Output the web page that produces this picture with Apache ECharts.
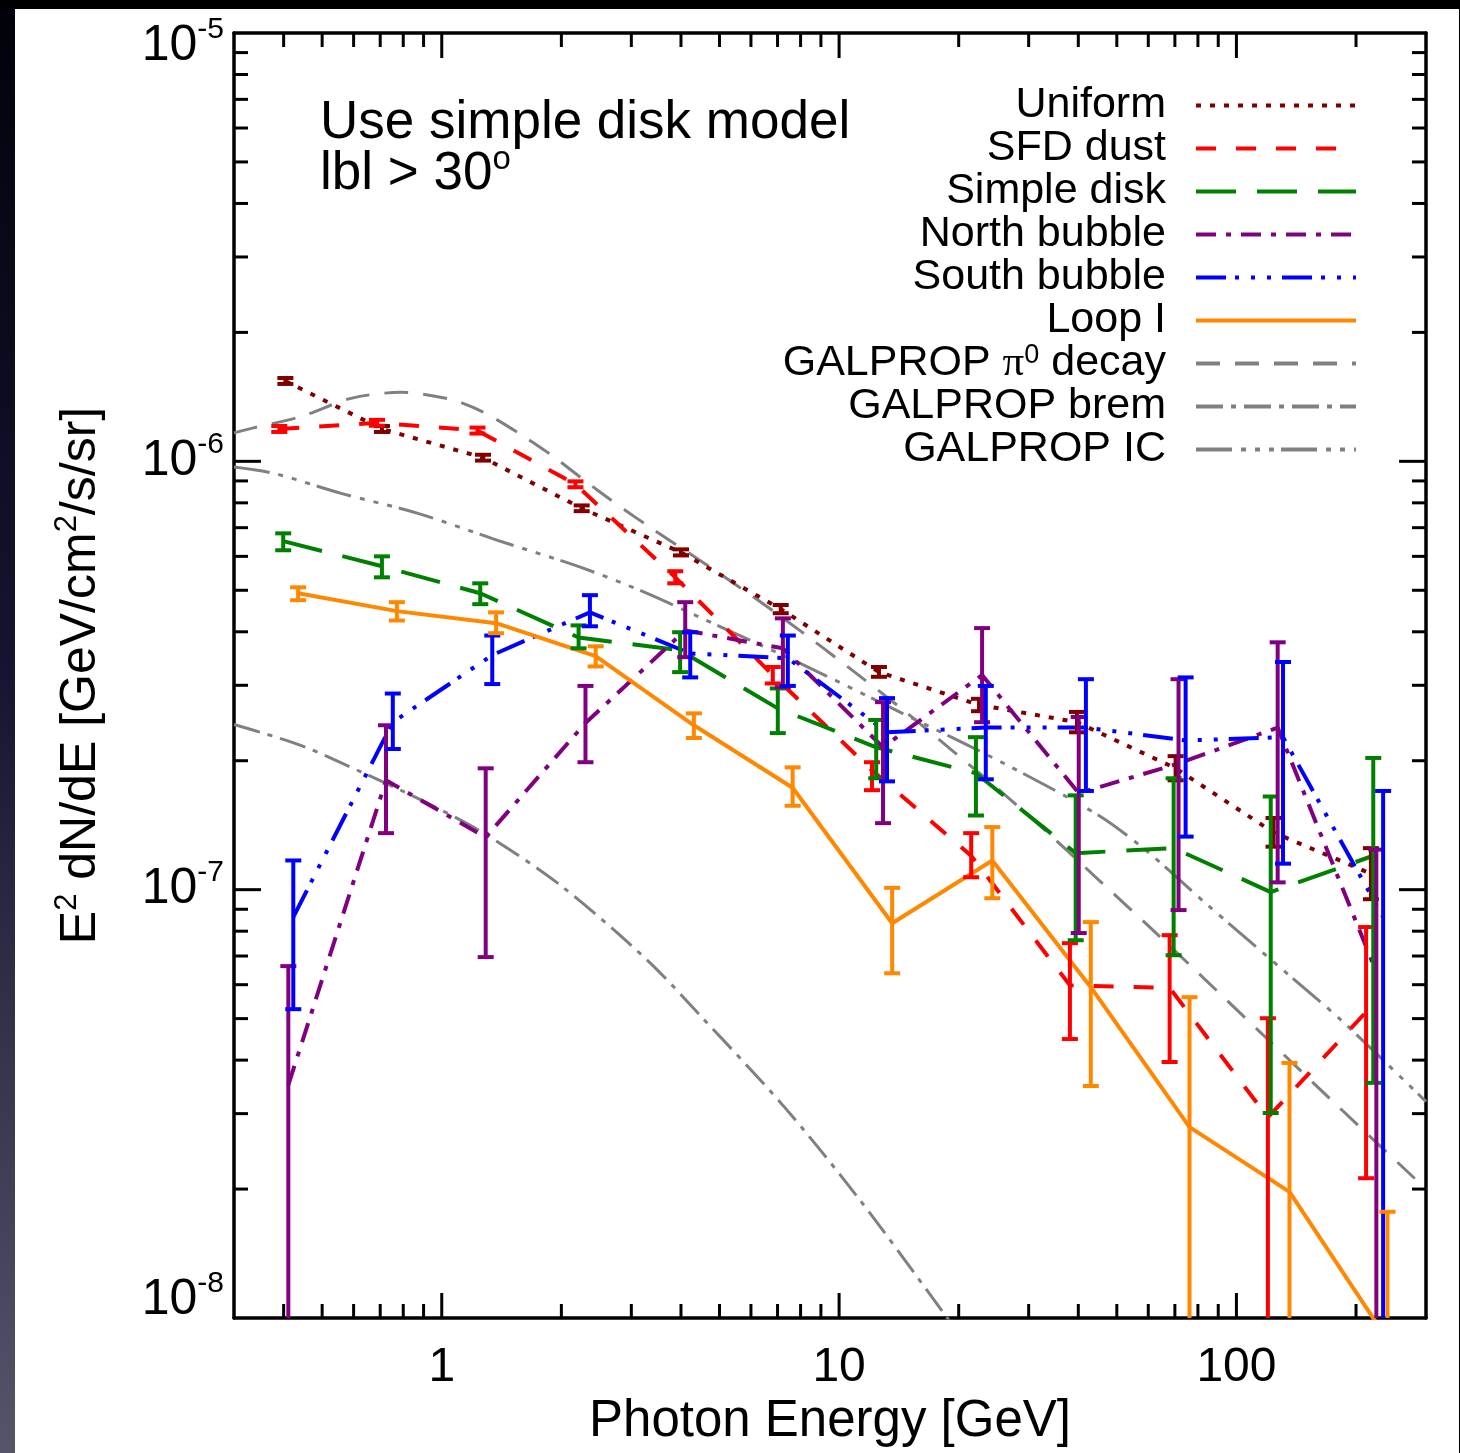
<!DOCTYPE html>
<html>
<head>
<meta charset="utf-8">
<script src="https://cdn.jsdelivr.net/npm/echarts@6/dist/echarts.min.js"></script>
<style>
  html, body { margin: 0; padding: 0; width: 1460px; height: 1453px; overflow: hidden; background: #000; }
  #side { position: absolute; left: 0; top: 9px; width: 15px; height: 1444px; background: linear-gradient(#02020c, #141430 45%, #55556a); }
  #chart { position: absolute; left: 15px; top: 9px; width: 1444px; height: 1444px; background: #fff; }
</style>
</head>
<body>
<div id="side"></div>
<div id="chart"></div>
<script>
// axis ranges
const X_MIN = 0.3, X_MAX = 300;
const Y_MIN = 1e-8, Y_MAX = 1e-5;

// tick positions
const xMajorTicks = [1, 10, 100];
const xMinorTicks = [0.4, 0.5, 0.6, 0.7, 0.8, 0.9, 2, 3, 4, 5, 6, 7, 8, 9, 20, 30, 40, 50, 60, 70, 80, 90, 200];
const yMajorTicks = [1e-7, 1e-6];
const yMinorTicks = [2e-8, 3e-8, 4e-8, 5e-8, 6e-8, 7e-8, 8e-8, 9e-8,
  2e-7, 3e-7, 4e-7, 5e-7, 6e-7, 7e-7, 8e-7, 9e-7,
  2e-6, 3e-6, 4e-6, 5e-6, 6e-6, 7e-6, 8e-6, 9e-6];

// Uniform
const uniE  = [0.404, 0.707, 1.27, 2.25, 4.0, 7.13, 12.6, 22.5, 39.7, 70.3, 124, 218];
const uniV  = [1.54e-6, 1.19e-6, 1.02e-6, 7.77e-7, 6.13e-7, 4.52e-7, 3.22e-7, 2.70e-7, 2.46e-7, 1.92e-7, 1.36e-7, 1.09e-7];
const uniLo = [1.516e-6, 1.171e-6, 1.004e-6, 7.65e-7, 6.03e-7, 4.42e-7, 3.14e-7, 2.61e-7, 2.33e-7, 1.80e-7, 1.26e-7, 9.5e-8];
const uniHi = [1.565e-6, 1.209e-6, 1.036e-6, 7.89e-7, 6.23e-7, 4.62e-7, 3.31e-7, 2.79e-7, 2.60e-7, 2.05e-7, 1.47e-7, 1.25e-7];

// SFD dust
const sfdE  = [0.390, 0.687, 1.23, 2.17, 3.87, 6.81, 12.1, 21.5, 38.1, 67.9, 120, 212];
const sfdV  = [1.19e-6, 1.23e-6, 1.18e-6, 8.84e-7, 5.36e-7, 3.17e-7, 1.90e-7, 1.20e-7, 5.98e-8, 5.9e-8, 2.94e-8, 5.18e-8];
const sfdLo = [1.171e-6, 1.211e-6, 1.161e-6, 8.70e-7, 5.19e-7, 3.03e-7, 1.707e-7, 1.069e-7, 4.48e-8, 3.96e-8, 5e-9, 2.12e-8];
const sfdHi = [1.209e-6, 1.250e-6, 1.199e-6, 8.98e-7, 5.54e-7, 3.31e-7, 1.984e-7, 1.355e-7, 7.50e-8, 7.83e-8, 5.01e-8, 8.18e-8];

// Simple disk
const diskE  = [0.399, 0.707, 1.25, 2.21, 3.98, 7.01, 12.4, 22.1, 39.4, 69.5, 122, 221];
const diskV  = [6.51e-7, 5.69e-7, 4.92e-7, 3.88e-7, 3.62e-7, 2.65e-7, 2.15e-7, 1.87e-7, 1.217e-7, 1.25e-7, 9.87e-8, 1.20e-7];
const diskLo = [6.20e-7, 5.36e-7, 4.64e-7, 3.66e-7, 3.22e-7, 2.32e-7, 1.82e-7, 1.49e-7, 7.62e-8, 7.03e-8, 3.01e-8, 3.54e-8];
const diskHi = [6.79e-7, 6.00e-7, 5.19e-7, 4.14e-7, 3.99e-7, 2.95e-7, 2.49e-7, 2.27e-7, 1.66e-7, 1.82e-7, 1.65e-7, 2.03e-7];

// North bubble
const northE  = [0.411, 0.724, 1.29, 2.30, 4.10, 7.22, 12.9, 22.9, 40.1, 71.5, 127, 225];
const northV  = [3.50e-8, 1.80e-7, 1.326e-7, 2.45e-7, 4.03e-7, 3.66e-7, 2.15e-7, 3.17e-7, 1.68e-7, 1.97e-7, 2.39e-7, 6.42e-8];
const northLo = [5e-9, 1.355e-7, 6.96e-8, 1.984e-7, 3.49e-7, 2.97e-7, 1.43e-7, 2.46e-7, 7.92e-8, 8.96e-8, 1.04e-7, 5e-9];
const northHi = [6.63e-8, 2.42e-7, 1.92e-7, 2.99e-7, 4.69e-7, 4.30e-7, 2.74e-7, 4.08e-7, 2.53e-7, 3.10e-7, 3.78e-7, 1.24e-7];

// South bubble
const southE  = [0.423, 0.753, 1.34, 2.36, 4.22, 7.43, 13.2, 23.4, 41.8, 74.5, 131, 234];
const southV  = [8.63e-8, 2.46e-7, 3.53e-7, 4.44e-7, 3.56e-7, 3.47e-7, 2.33e-7, 2.39e-7, 2.39e-7, 2.23e-7, 2.27e-7, 8.63e-8];
const southLo = [5.26e-8, 2.13e-7, 3.02e-7, 4.12e-7, 3.13e-7, 2.99e-7, 1.79e-7, 1.81e-7, 1.70e-7, 1.33e-7, 1.15e-7, 5e-9];
const southHi = [1.17e-7, 2.87e-7, 3.92e-7, 4.87e-7, 3.99e-7, 3.92e-7, 2.80e-7, 2.99e-7, 3.10e-7, 3.13e-7, 3.40e-7, 1.70e-7];

// Loop I
const loopE  = [0.435, 0.771, 1.37, 2.44, 4.31, 7.64, 13.6, 24.3, 43.0, 76.2, 136, 240];
const loopV  = [4.92e-7, 4.47e-7, 4.19e-7, 3.51e-7, 2.42e-7, 1.73e-7, 8.35e-8, 1.17e-7, 5.92e-8, 2.79e-8, 1.97e-8, 8.9e-9];
const loopLo = [4.74e-7, 4.25e-7, 3.97e-7, 3.32e-7, 2.26e-7, 1.57e-7, 6.38e-8, 9.55e-8, 3.48e-8, 5e-9, 5e-9, 5e-9];
const loopHi = [5.08e-7, 4.69e-7, 4.44e-7, 3.70e-7, 2.58e-7, 1.93e-7, 1.01e-7, 1.40e-7, 8.40e-8, 5.61e-8, 3.94e-8, 1.77e-8];

// GALPROP model curves
const pi0E = [0.3, 0.332, 0.443, 0.591, 0.789, 1.053, 1.275, 1.579, 1.877, 2.233, 2.506, 2.895, 3.346, 4.466, 5.963, 7.96, 10.62, 14.19, 18.94, 25.28, 33.75, 45.05, 60.14, 80.28, 118.2, 173.2, 300];
const pi0V = [1.165e-6, 1.194e-6, 1.273e-6, 1.403e-6, 1.449e-6, 1.395e-6, 1.301e-6, 1.156e-6, 1.038e-6, 9.18e-7, 8.47e-7, 7.69e-7, 7.01e-7, 5.87e-7, 4.89e-7, 4.03e-7, 3.29e-7, 2.67e-7, 2.14e-7, 1.71e-7, 1.35e-7, 1.053e-7, 8.22e-8, 6.38e-8, 4.53e-8, 3.23e-8, 2.0e-8];
const bremE = [0.3, 0.443, 0.637, 0.886, 1.275, 1.989, 3.288, 4.466, 7.215, 11.26, 18.72, 25.28];
const bremV = [2.43e-7, 2.17e-7, 1.87e-7, 1.62e-7, 1.355e-7, 1.024e-7, 6.85e-8, 5.09e-8, 3.14e-8, 1.89e-8, 1.0e-8, 6.8e-9];
const icE = [0.3, 0.379, 0.558, 0.871, 1.382, 2.233, 3.288, 4.466, 7.96, 14.19, 26.02, 45.05, 60.14, 83.6, 137.4, 183.4, 300];
const icV = [9.7e-7, 9.37e-7, 8.42e-7, 7.56e-7, 6.54e-7, 5.66e-7, 4.92e-7, 4.32e-7, 3.38e-7, 2.60e-7, 1.97e-7, 1.49e-7, 1.22e-7, 9.30e-8, 6.25e-8, 4.96e-8, 3.2e-8];

const FONT = '"Liberation Sans", Arial, sans-serif';
const GRAY = '#808080';

const pairs = (xs, ys) => xs.map((x, i) => [x, ys[i]]);

function lineSeries(name, color, dash, width, xs, ys, smooth) {
  return {
    type: 'line',
    name: name,
    data: pairs(xs, ys),
    symbol: 'none',
    smooth: smooth || false,
    clip: true,
    lineStyle: { color: color, width: width, type: dash, cap: 'butt' },
    itemStyle: { color: color },
    emphasis: { disabled: true },
    z: 3
  };
}

function errSeries(name, color, xs, lo, hi) {
  return {
    type: 'custom',
    name: name + ' err',
    coordinateSystem: 'cartesian2d',
    clip: true,
    z: 4,
    data: xs.map((x, i) => [x, lo[i], hi[i]]),
    encode: { x: 0, y: [1, 2] },
    renderItem: (params, api) => {
      const top = api.coord([api.value(0), api.value(2)]);
      const bot = api.coord([api.value(0), api.value(1)]);
      const c = 8;
      const st = { stroke: color, lineWidth: 4, fill: null };
      return {
        type: 'group',
        children: [
          { type: 'line', shape: { x1: top[0], y1: top[1], x2: bot[0], y2: bot[1] }, style: st },
          { type: 'line', shape: { x1: top[0] - c, y1: top[1], x2: top[0] + c, y2: top[1] }, style: st },
          { type: 'line', shape: { x1: bot[0] - c, y1: bot[1], x2: bot[0] + c, y2: bot[1] }, style: st }
        ]
      };
    }
  };
}

// tick marks on all four sides of the frame
function tickSeries(values, isX, len) {
  return {
    type: 'custom',
    coordinateSystem: 'cartesian2d',
    clip: false,
    silent: true,
    z: 5,
    data: values.map(v => isX ? [v, Y_MIN] : [X_MIN, v]),
    encode: { x: 0, y: 1 },
    renderItem: (params, api) => {
      const st = { stroke: '#000', lineWidth: 3 };
      if (isX) {
        const v = api.value(0);
        const b = api.coord([v, Y_MIN]);
        const t = api.coord([v, Y_MAX]);
        return { type: 'group', children: [
          { type: 'line', shape: { x1: b[0], y1: b[1], x2: b[0], y2: b[1] - len }, style: st },
          { type: 'line', shape: { x1: t[0], y1: t[1], x2: t[0], y2: t[1] + len }, style: st }
        ] };
      }
      const v = api.value(1);
      const l = api.coord([X_MIN, v]);
      const r = api.coord([X_MAX, v]);
      return { type: 'group', children: [
        { type: 'line', shape: { x1: l[0], y1: l[1], x2: l[0] + len, y2: l[1] }, style: st },
        { type: 'line', shape: { x1: r[0], y1: r[1], x2: r[0] - len, y2: r[1] }, style: st }
      ] };
    }
  };
}

const chart = echarts.init(document.getElementById('chart'), null, { renderer: 'canvas' });

const legendNames = ['Uniform', 'SFD dust', 'Simple disk', 'North bubble', 'South bubble', 'Loop I',
  'GALPROP pi0 decay', 'GALPROP brem', 'GALPROP IC'];

const axisLineStyle = { show: true, lineStyle: { color: '#000', width: 3.5 } };

// y labels: "10" with superscript exponent; a spacer token fixes the block height
// and token heights place base/superscript, edge labels pushed inside the frame
function yLabel(v) {
  const p = Math.round(Math.log10(v));
  if (p === -5) return '{z| }{nt|10}{et|' + p + '}';
  if (p === -8) return '{z| }{nb|10}{eb|' + p + '}';
  return '{z| }{n|10}{e|' + p + '}';
}

const baseTxt = { fontSize: 50, lineHeight: 60, fontFamily: FONT, color: '#000' };
const supTxt = { fontSize: 30, lineHeight: 30, fontFamily: FONT, color: '#000' };

const option = {
  animation: false,
  backgroundColor: '#fff',
  grid: { left: 219, top: 24, width: 1192, height: 1285, outerBoundsMode: 'none' },
  xAxis: [{
    type: 'log', logBase: 10, min: X_MIN, max: X_MAX, position: 'bottom',
    axisLine: axisLineStyle, axisTick: { show: false }, splitLine: { show: false },
    axisLabel: {
      show: true, showMinLabel: false, showMaxLabel: false, margin: 26,
      color: '#000', fontSize: 48, fontFamily: FONT,
      formatter: v => String(Math.round(v))
    },
    name: 'Photon Energy [GeV]', nameLocation: 'middle', nameGap: 78,
    nameTextStyle: { color: '#000', fontSize: 51, fontFamily: FONT }
  }, {
    type: 'log', logBase: 10, min: X_MIN, max: X_MAX, position: 'top',
    axisLine: axisLineStyle, axisTick: { show: false }, splitLine: { show: false },
    axisLabel: { show: false }
  }],
  yAxis: [{
    type: 'log', logBase: 10, min: Y_MIN, max: Y_MAX, position: 'left',
    axisLine: axisLineStyle, axisTick: { show: false }, splitLine: { show: false },
    axisLabel: {
      margin: 10, color: '#000', fontFamily: FONT,
      formatter: yLabel,
      rich: {
        z:  { fontSize: 1, lineHeight: 76 },
        n:  Object.assign({}, baseTxt),
        e:  Object.assign({ verticalAlign: 'top', height: 42 }, supTxt),
        nt: Object.assign({ verticalAlign: 'top', height: 102 }, baseTxt),
        et: Object.assign({ verticalAlign: 'top', height: 70 }, supTxt),
        nb: Object.assign({ verticalAlign: 'top', height: 40 }, baseTxt),
        eb: Object.assign({ verticalAlign: 'top', height: 8 }, supTxt)
      }
    },
    name: '{a|E}{s|2}{a| dN/dE [GeV/cm}{s|2}{a|/s/sr]}',
    nameLocation: 'middle', nameRotate: 90, nameGap: 124,
    nameTextStyle: {
      rich: {
        a: { fontSize: 50, lineHeight: 58, fontFamily: FONT, color: '#000' },
        s: { fontSize: 31, lineHeight: 31, verticalAlign: 'top', fontFamily: FONT, color: '#000' }
      }
    }
  }, {
    type: 'log', logBase: 10, min: Y_MIN, max: Y_MAX, position: 'right',
    axisLine: axisLineStyle, axisTick: { show: false }, splitLine: { show: false },
    axisLabel: { show: false }
  }],
  legend: {
    data: legendNames,
    orient: 'vertical',
    align: 'right',
    right: 101,
    top: 75,
    padding: 0,
    itemWidth: 160,
    itemHeight: 10,
    itemGap: 0,
    selectedMode: false,
    itemStyle: { opacity: 0 },
    lineStyle: { width: 4 },
    formatter: name => name === 'GALPROP pi0 decay' ? '{a|GALPROP }{p|\u03c0}{s|0}{a| decay}' : '{a|' + name + '}',
    textStyle: {
      color: '#000', fontSize: 43, fontFamily: FONT, padding: [0, 25, 0, 0],
      rich: {
        a: { fontSize: 43, lineHeight: 42.8, fontFamily: FONT, color: '#000' },
        p: { fontSize: 43, lineHeight: 42.8, fontFamily: '"Liberation Serif", serif', color: '#000' },
        s: { fontSize: 27, lineHeight: 27, verticalAlign: 'top', fontFamily: FONT, color: '#000' }
      }
    }
  },
  graphic: [{
    type: 'text', left: 305, top: 88,
    style: { text: 'Use simple disk model', font: '53px ' + FONT, fill: '#000' }
  }, {
    type: 'text', left: 305, top: 134,
    style: {
      text: '{a|lbl > 30}{s|o}',
      rich: {
        a: { fontSize: 53, lineHeight: 62, fontFamily: FONT, fill: '#000', color: '#000' },
        s: { fontSize: 33, lineHeight: 33, verticalAlign: 'top', fontFamily: FONT, fill: '#000', color: '#000' }
      }
    }
  }],
  series: [
    lineSeries('GALPROP pi0 decay', GRAY, [24, 15], 3, pi0E, pi0V, 0.3),
    lineSeries('GALPROP brem', GRAY, [27, 8, 5, 8], 3, bremE, bremV, 0.3),
    lineSeries('GALPROP IC', GRAY, [36, 9, 5, 9, 5, 9, 5, 7], 3, icE, icV, 0.3),
    lineSeries('Uniform', '#800000', [5, 9], 4, uniE, uniV),
    lineSeries('SFD dust', '#ff0000', [20, 20], 4, sfdE, sfdV),
    lineSeries('Simple disk', '#008000', [40, 21], 4, diskE, diskV),
    lineSeries('North bubble', '#800080', [20, 10, 5, 10], 4, northE, northV),
    lineSeries('South bubble', '#0000ff', [30, 9, 4, 12, 4, 12, 4, 11], 4, southE, southV),
    lineSeries('Loop I', '#ff8800', 'solid', 4, loopE, loopV),
    errSeries('Uniform', '#800000', uniE, uniLo, uniHi),
    errSeries('SFD dust', '#ff0000', sfdE, sfdLo, sfdHi),
    errSeries('Simple disk', '#008000', diskE, diskLo, diskHi),
    errSeries('North bubble', '#800080', northE, northLo, northHi),
    errSeries('South bubble', '#0000ff', southE, southLo, southHi),
    errSeries('Loop I', '#ff8800', loopE, loopLo, loopHi),
    tickSeries(xMajorTicks, true, 25),
    tickSeries(xMinorTicks, true, 14),
    tickSeries(yMajorTicks, false, 27),
    tickSeries(yMinorTicks, false, 14)
  ]
};

chart.setOption(option);
</script>
</body>
</html>
